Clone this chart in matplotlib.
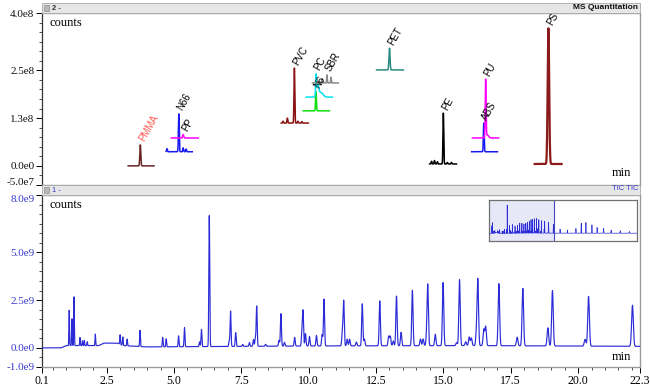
import numpy as np
import matplotlib
matplotlib.use('Agg')
import matplotlib.pyplot as plt
from matplotlib.patches import Rectangle
from matplotlib.ticker import FixedLocator, MultipleLocator

# ---------------- data ----------------
x_ticks = [0.1, 2.5, 5.0, 7.5, 10.0, 12.5, 15.0, 17.5, 20.0, 22.3]
x_tick_labels = ['0.1', '2.5', '5.0', '7.5', '10.0', '12.5', '15.0', '17.5', '20.0', '22.3']
top_y_ticks = [-5e7, 0, 1.25e8, 2.5e8, 4e8]
top_y_labels = ['-5.0e7', '0.0e0', '1.3e8', '2.5e8', '4.0e8']
bot_y_ticks = [-1e9, 0, 2.5e9, 5e9, 8e9]
bot_y_labels = ['-1.0e9', '0.0e0', '2.5e9', '5.0e9', '8.0e9']

# extracted-ion traces of the polymer markers (top panel)
polymers    = ['PMMA', 'N66', 'PP', 'PVC', 'N6', 'PC', 'SBR', 'PET', 'PE', 'ABS', 'PU', 'PS']
poly_t0     = [3.30, 4.71, 4.90, 8.98, 9.80, 9.91, 10.14, 12.52, 14.49, 16.05, 16.08, 18.39]
poly_t1     = [4.26, 5.68, 5.90, 9.99, 10.77, 10.88, 11.10, 13.52, 15.49, 17.01, 17.05, 19.39]
poly_base   = [0.0, 0.37e8, 0.73e8, 1.12e8, 1.44e8, 1.80e8, 2.17e8, 2.51e8, 0.05e8, 0.37e8, 0.73e8, 0.05e8]
poly_peak_t = [[3.75],
               [4.74, 5.18, 5.34, 5.45],
               [5.34],
               [9.05, 9.21, 9.47, 9.60, 9.75],
               [10.27],
               [10.27, 10.33, 10.45],
               [10.50, 10.68, 10.83],
               [13.00],
               [14.56, 14.67, 14.78, 15.00, 15.15, 15.30],
               [16.50],
               [16.57, 16.63],
               [18.90]]
poly_peak_h = [[0.55e8],
               [0.08e8, 0.99e8, 0.10e8, 0.07e8],
               [0.09e8],
               [0.05e8, 0.13e8, 1.44e8, 0.05e8, 0.04e8],
               [0.50e8],
               [0.50e8, 0.30e8, 0.12e8],
               [0.10e8, 0.21e8, 0.15e8],
               [0.57e8],
               [0.07e8, 0.09e8, 0.06e8, 1.33e8, 0.04e8, 0.04e8],
               [0.75e8],
               [1.50e8, 0.08e8],
               [3.55e8]]
poly_peak_w = [[0.018],
               [0.015, 0.015, 0.015, 0.015],
               [0.02],
               [0.015, 0.015, 0.015, 0.015, 0.015],
               [0.015],
               [0.012, 0.04, 0.08],
               [0.012, 0.012, 0.012],
               [0.02],
               [0.015, 0.015, 0.015, 0.015, 0.015, 0.015],
               [0.015],
               [0.015, 0.05],
               [0.028]]
poly_colors = ['#6a2424', '#1a1aee', '#ff00ff', '#8b1212', '#10dd10', '#00e0ee', '#8a8a8a',
               '#2a8a80', '#000000', '#1a1aee', '#ff00ff', '#8b1a1a']
poly_label_colors = ['#ff5a50'] + ['#000000'] * 11

# total ion chromatogram (bottom panel)
tic_base_t = [0.1, 0.8, 1.0, 2.2, 2.4, 2.9, 3.1, 4.0, 10.0, 16.0, 22.3]
tic_base_v = [0.0, 0.0, 0.12e9, 0.12e9, 0.25e9, 0.25e9, 0.12e9, 0.05e9, 0.10e9, 0.12e9, 0.08e9]
tic_peak_t = [1.11, 1.21, 1.29, 1.51, 1.60, 1.67, 1.78, 2.08, 3.00, 3.10, 3.26, 3.74,
              4.58, 4.71, 5.17, 5.39, 5.95, 6.02, 6.31, 7.05, 7.10, 7.29, 7.55, 7.80,
              7.95, 8.02, 8.07, 8.40, 8.90, 8.97, 9.10, 9.48, 9.75, 9.79, 9.88, 10.03,
              10.29, 10.50, 10.57, 11.25, 11.30, 11.43, 11.52, 11.77, 11.99, 12.07, 12.64,
              12.97, 13.03, 13.14, 13.26, 13.43, 13.85, 14.15, 14.25, 14.38, 14.42, 14.70,
              14.99, 15.49, 15.60, 15.83, 15.96, 16.04, 16.23, 16.28, 16.50, 16.57, 17.06,
              17.74, 17.95, 18.88, 19.05, 20.26, 20.39, 22.02]
tic_peak_h = [1.85e9, 1.40e9, 2.55e9, 0.42e9, 0.25e9, 0.27e9, 0.20e9, 0.60e9, 0.50e9, 0.45e9,
              0.35e9, 0.85e9, 0.50e9, 0.42e9, 0.57e9, 1.00e9, 0.25e9, 0.90e9, 6.85e9, 0.30e9,
              1.85e9, 0.72e9, 0.10e9, 0.20e9, 0.35e9, 0.45e9, 2.10e9, 0.10e9, 0.30e9, 1.70e9,
              0.20e9, 0.45e9, 0.70e9, 1.80e9, 0.65e9, 0.50e9, 0.55e9, 0.60e9, 2.45e9, 0.70e9,
              2.35e9, 0.35e9, 0.35e9, 0.20e9, 2.20e9, 0.35e9, 2.35e9, 0.50e9, 0.50e9, 0.25e9,
              2.60e9, 0.70e9, 2.90e9, 0.35e9, 0.35e9, 0.50e9, 3.10e9, 0.60e9, 3.30e9, 0.15e9,
              3.45e9, 0.20e9, 0.45e9, 0.40e9, 0.70e9, 3.40e9, 0.85e9, 1.00e9, 3.25e9, 0.45e9,
              3.00e9, 0.95e9, 2.90e9, 0.35e9, 2.60e9, 2.15e9]
# later part of the run, only visible in the overview inset
late_peak_t = [24.3, 26.8, 29.7, 31.5, 33.1, 35.15, 36.9, 39.1, 41.7, 44.8, 47.9]
late_peak_h = [1.0e9, 0.75e9, 1.15e9, 2.4e9, 2.6e9, 2.0e9, 1.4e9, 1.15e9, 0.75e9, 0.6e9, 0.4e9]


def gauss_sum(t, centers, heights, widths):
    y = np.zeros_like(t)
    for c, h, w in zip(centers, heights, widths):
        y += h * np.exp(-0.5 * ((t - c) / w) ** 2)
    return y


# ---------------- figure ----------------
W, H = 650, 388
fig = plt.figure(figsize=(6.5, 3.88), dpi=100)
SERIF = 'Liberation Serif'
SANS = 'Liberation Sans'
TIC_BLUE = '#2b2bd8'
LAB_BLUE = '#3a3ad0'


def fx(px):
    return px / W


def fy(py):
    return 1 - py / H


L, R = 42, 640
ax_top = fig.add_axes([fx(L), fy(185), fx(R - L), (185 - 13) / H])
ax_bot = fig.add_axes([fx(L), fy(367), fx(R - L), (367 - 195) / H])

# title bars
for (y0, y1) in [(3, 13), (185, 195)]:
    fig.patches.append(Rectangle((fx(L), fy(y1)), fx(R - L), (y1 - y0) / H,
                                 transform=fig.transFigure, facecolor='#e6e6e6',
                                 edgecolor='#a8a8a8', lw=0.6, zorder=0))
    fig.patches.append(Rectangle((fx(L + 2), fy(y1 - 2)), fx(5), 6 / H,
                                 transform=fig.transFigure, facecolor='#b8b8b8',
                                 edgecolor='#808080', lw=0.4, zorder=1))
fig.text(fx(L + 10), fy(8), '2 -', fontsize=5.5, fontweight='bold', family=SANS,
         color='#333333', va='center', ha='left')
fig.text(fx(R - 2), fy(7.5), 'MS Quantitation', fontsize=6, fontweight='bold', family=SANS,
         color='#111111', va='center', ha='right')
fig.text(fx(L + 10), fy(190), '1 -', fontsize=5.5, family=SANS,
         color=LAB_BLUE, va='center', ha='left')
fig.text(fx(R - 2), fy(188.5), 'TIC TIC', fontsize=5.5, family=SANS,
         color=LAB_BLUE, va='center', ha='right')

# ---- top panel ----
for i, name in enumerate(polymers):
    t = np.arange(poly_t0[i], poly_t1[i], 0.002)
    y = poly_base[i] + gauss_sum(t, poly_peak_t[i], poly_peak_h[i], poly_peak_w[i])
    lw = 1.6 if name == 'PS' else 1.1
    ax_top.plot(t, y, color=poly_colors[i], lw=lw, zorder=3)
    k = int(np.argmax(y))
    ax_top.text(t[k] + 0.2, y[k] + 0.04e8, name, rotation=60, rotation_mode='anchor',
                ha='left', va='bottom', fontsize=7, family=SANS,
                color=poly_label_colors[i], zorder=4)

ax_top.set_xlim(0.1, 22.3)
ax_top.set_ylim(-5e7, 4e8)
ax_top.yaxis.set_major_locator(FixedLocator(top_y_ticks))
ax_top.set_yticklabels(top_y_labels)
ax_top.yaxis.set_minor_locator(MultipleLocator(2.5e7))
ax_top.set_xticks([])
ax_top.text(0.012, 0.94, 'counts', transform=ax_top.transAxes, fontsize=9, family=SERIF,
            ha='left', va='center')
ax_top.text(0.985, 0.07, 'min', transform=ax_top.transAxes, fontsize=9, family=SERIF,
            ha='right', va='center')

# ---- bottom panel ----
t_tic = np.arange(0.1, 22.3, 0.002)
w_tic = [0.010 + 0.0010 * c for c in tic_peak_t]
y_tic = np.interp(t_tic, tic_base_t, tic_base_v) + gauss_sum(t_tic, tic_peak_t, tic_peak_h, w_tic)
ax_bot.plot(t_tic, y_tic, color=TIC_BLUE, lw=0.85, zorder=3)
ax_bot.set_xlim(0.1, 22.3)
ax_bot.set_ylim(-1e9, 8e9)
ax_bot.yaxis.set_major_locator(FixedLocator(bot_y_ticks))
ax_bot.set_yticklabels(bot_y_labels)
ax_bot.yaxis.set_minor_locator(MultipleLocator(5e8))
ax_bot.xaxis.set_major_locator(FixedLocator(x_ticks))
ax_bot.set_xticklabels(x_tick_labels)
ax_bot.xaxis.set_minor_locator(MultipleLocator(0.5))
ax_bot.text(0.012, 0.94, 'counts', transform=ax_bot.transAxes, fontsize=9, family=SERIF,
            ha='left', va='center')
ax_bot.text(0.985, 0.06, 'min', transform=ax_bot.transAxes, fontsize=9, family=SERIF,
            ha='right', va='center')

for ax, tick_col in [(ax_top, '#111111'), (ax_bot, LAB_BLUE)]:
    for s in ['top', 'right', 'bottom']:
        ax.spines[s].set_color('#9a9a9a')
        ax.spines[s].set_linewidth(1.0)
    ax.spines['left'].set_color('#333333')
    ax.spines['left'].set_linewidth(0.9)
    ax.tick_params(axis='y', which='major', direction='out', length=4, width=0.7,
                   labelsize=8, labelcolor=tick_col, pad=1.5)
    ax.tick_params(axis='y', which='minor', direction='out', length=2, width=0.5)
    for lab in ax.get_yticklabels():
        lab.set_family(SERIF)
# keep the two adjacent end labels (-5.0e7 / 8.0e9) from colliding
ax_top.get_yticklabels()[0].set_verticalalignment('baseline')
ax_bot.get_yticklabels()[-1].set_verticalalignment('top')

ax_bot.tick_params(axis='x', which='major', direction='out', length=4, width=0.7,
                   labelsize=8.5, pad=2)
ax_bot.tick_params(axis='x', which='minor', direction='out', length=2, width=0.5)
for lab in ax_bot.get_xticklabels():
    lab.set_family(SERIF)

# ---- overview inset ----
ax_in = fig.add_axes([fx(489), fy(241), fx(637 - 489), (241 - 200) / H])
t_all = np.arange(0.1, 50.5, 0.004)
all_t = tic_peak_t + late_peak_t
all_h = tic_peak_h + late_peak_h
w_all = [0.010 + 0.0010 * c for c in all_t]
y_all = np.interp(t_all, tic_base_t, tic_base_v) + gauss_sum(t_all, all_t, all_h, w_all)
ax_in.axvspan(0.1, 22.3, color='#e6e8f8', zorder=0)
ax_in.axvline(22.3, color='#4848c0', lw=0.8, zorder=2)
ax_in.plot(t_all, y_all, color=TIC_BLUE, lw=0.5, zorder=3)
ax_in.set_xlim(0.1, 50.5)
ax_in.set_ylim(-1.8e9, 8.1e9)
ax_in.set_xticks([])
ax_in.set_yticks([])
for s in ax_in.spines.values():
    s.set_color('#707070')
    s.set_linewidth(0.9)

fig.savefig('out.png', dpi=100)
